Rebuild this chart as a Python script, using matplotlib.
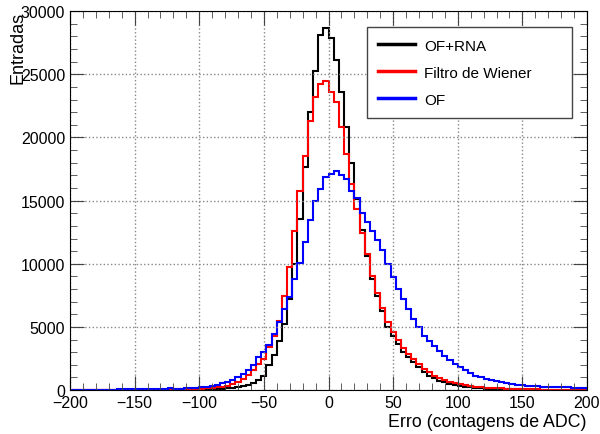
import numpy as np
import matplotlib.pyplot as plt
from matplotlib.ticker import MultipleLocator

plt.rcParams['font.family'] = ['Liberation Sans', 'DejaVu Sans']

# 100 bins de 4 ADC, de -200 a 200
edges = np.linspace(-200, 200, 101)

of_rna = [5, 5, 5, 5, 5, 5, 5, 5, 5, 5,
          5, 5, 10, 10, 10, 10, 15, 15, 20, 20,
          25, 30, 35, 40, 50, 60, 70, 85, 100, 120,
          140, 180, 240, 290, 400, 560, 800, 1100, 2000, 2800,
          3900, 5200, 7200, 9970, 13540, 17650, 22030, 25300, 28100, 28700,
          27900, 26100, 23600, 20800, 17970, 15100, 12700, 10630, 8790, 7450,
          6280, 5000, 4300, 3640, 3000, 2600, 2200, 1800, 1450, 1150,
          930, 750, 620, 500, 400, 330, 270, 220, 180, 150,
          120, 100, 85, 70, 60, 50, 45, 40, 35, 30,
          25, 20, 20, 15, 15, 15, 10, 10, 10, 10]

wiener = [5, 5, 5, 5, 5, 5, 10, 10, 10, 10,
          15, 15, 20, 20, 25, 25, 30, 35, 40, 45,
          50, 60, 70, 80, 95, 110, 130, 170, 210, 270,
          340, 450, 610, 870, 1200, 1600, 2100, 2450, 3380, 4300,
          5490, 7470, 9710, 12610, 15780, 18550, 21320, 23170, 24220, 24490,
          23570, 22770, 20800, 18680, 16300, 14330, 12400, 10800, 9000, 7700,
          6500, 5400, 4600, 3950, 3300, 2850, 2450, 2050, 1700, 1400,
          1150, 950, 800, 660, 550, 460, 390, 330, 280, 240,
          200, 170, 145, 125, 105, 90, 80, 70, 60, 50,
          45, 40, 35, 30, 30, 25, 25, 20, 20, 20]

of = [20, 20, 25, 25, 30, 30, 35, 35, 40, 45,
      50, 55, 60, 65, 70, 80, 90, 100, 110, 125,
      100, 120, 140, 170, 200, 240, 280, 340, 420, 520,
      650, 800, 1000, 1250, 1600, 2000, 2600, 3000, 3600, 4400,
      5400, 6400, 7400, 8800, 10100, 11700, 13500, 15000, 15900, 16850,
      17100, 17350, 17000, 16700, 15800, 15200, 14000, 13300, 12600, 11900,
      11100, 10000, 8950, 8000, 7200, 6400, 5600, 5000, 4300, 3900,
      3500, 3100, 2700, 2350, 2050, 1800, 1550, 1330, 1150, 1000,
      880, 780, 690, 610, 540, 480, 430, 390, 360, 330,
      300, 280, 260, 240, 230, 220, 210, 200, 190, 180]

fig = plt.figure(figsize=(6, 4.35), dpi=100)
ax = fig.add_axes([0.1167, 0.101, 0.8616, 0.871])

ax.stairs(of_rna, edges, color='black', lw=1.5, label='OF+RNA')
ax.stairs(wiener, edges, color='#ff0000', lw=1.5, label='Filtro de Wiener')
ax.stairs(of, edges, color='#0000ff', lw=1.5, label='OF')

ax.set_xlim(-200, 200)
ax.set_ylim(0, 30000)
ax.xaxis.set_major_locator(MultipleLocator(50))
ax.xaxis.set_minor_locator(MultipleLocator(10))
ax.yaxis.set_major_locator(MultipleLocator(5000))
ax.yaxis.set_minor_locator(MultipleLocator(1000))
ax.tick_params(which='both', direction='in', top=True, right=True, color='#444444', labelsize=11.5)
ax.tick_params(which='major', length=10)
ax.tick_params(which='minor', length=5)
ax.grid(True, which='major', ls=':', color='#888888', lw=1)

ax.set_xlabel('Erro (contagens de ADC)', fontsize=12.8, loc='right', labelpad=2)
ax.set_ylabel('Entradas', fontsize=13, loc='top', labelpad=-4)

leg = ax.legend(loc='upper left', bbox_to_anchor=(0.5745, 0.72, 0.3965, 0.238),
                mode='expand', borderaxespad=0, fontsize=11,
                fancybox=False, framealpha=1, edgecolor='#444444',
                handlelength=2.4, handletextpad=0.6, labelspacing=0.85, borderpad=0.75)
for line in leg.get_lines():
    line.set_linewidth(2.5)

fig.savefig('out.png', dpi=100)
